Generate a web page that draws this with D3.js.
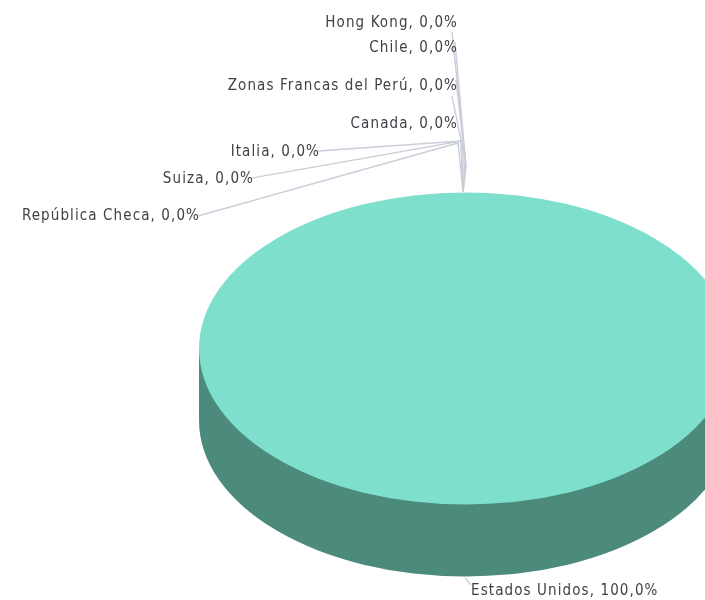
<!DOCTYPE html>
<html><head><meta charset="utf-8">
<script src="https://cdn.jsdelivr.net/npm/d3@7/dist/d3.min.js"></script>
<style>html,body{margin:0;padding:0;background:#fff;overflow:hidden}svg{display:block}</style>
</head><body><svg id="c" width="705" height="600"></svg>
<script>
const categories=["Estados Unidos","Hong Kong","Chile","Zonas Francas del Perú","Canada","Italia","Suiza","República Checa"];
const shares=[100,0,0,0,0,0,0,0];
const fmt=v=>v.toFixed(1).replace(".",",")+"%";
// label anchor and leader layout, in pixels, per category
const labelX=[471,458,458,458,458,320,254,200];
const labelY=[590,22,47,85,123,151,178,215];
const anchors=["start","end","end","end","end","end","end","end"];
const leaderStart=[[471,585],[452,32],[455,42],[456,80],[452,96],[318,151],[252,178],[198,216]];
const leaderElbow=[[465,578],[466,166],[466,166],[465,160],[463,150],[461,141],[461,141],[458,143]];
const leaderRoot=[463,192];
const cx=465.7,cy=348.5,rx=266.7,ry=156,depth=72;
const svg=d3.select("#c");
const defs=svg.append("defs");
defs.append("filter").attr("id","soft").append("feGaussianBlur").attr("stdDeviation",0.35);
const pie=d3.pie().sort(null).value(d=>d)(shares);
const arc=d3.arc().innerRadius(0).outerRadius(1);
const sy=d3.scaleLinear().domain([-1,1]).range([cy-ry,cy+ry]);
const sx=d3.scaleLinear().domain([-1,1]).range([cx-rx,cx+rx]);
const main=pie[0];
// side wall
svg.append("rect").attr("x",cx-rx).attr("y",cy).attr("width",2*rx).attr("height",depth).attr("fill","#4c8a7b");
svg.append("g").attr("transform",`translate(${sx(0)},${sy(0)+depth}) scale(${rx},${ry})`)
  .append("path").attr("d",arc(main)).attr("fill","#4c8a7b");
// leaders
const line=d3.line();
svg.append("g").selectAll("path").data(categories).join("path")
  .attr("d",(d,i)=>line(i===0?[leaderStart[i],leaderElbow[i]]:[leaderStart[i],leaderElbow[i],leaderRoot]))
  .attr("fill","none").attr("stroke","#c9ced8").attr("stroke-width",1.4);
// top face
svg.append("g").attr("transform",`translate(${sx(0)},${sy(0)}) scale(${rx},${ry})`)
  .append("path").attr("d",arc(main)).attr("fill","#7edfcc");
// labels
svg.append("g").attr("filter","url(#soft)").selectAll("text").data(categories).join("text")
  .attr("x",(d,i)=>labelX[i]).attr("y",(d,i)=>labelY[i]).attr("dy","0.35em")
  .attr("text-anchor",(d,i)=>anchors[i])
  .attr("font-family","'DejaVu Sans Condensed','DejaVu Sans',sans-serif").attr("font-stretch","condensed").attr("font-size",15)
  .attr("letter-spacing",1.1).attr("fill","#404048")
  .text((d,i)=>`${d}, ${fmt(shares[i])}`);
</script></body></html>
